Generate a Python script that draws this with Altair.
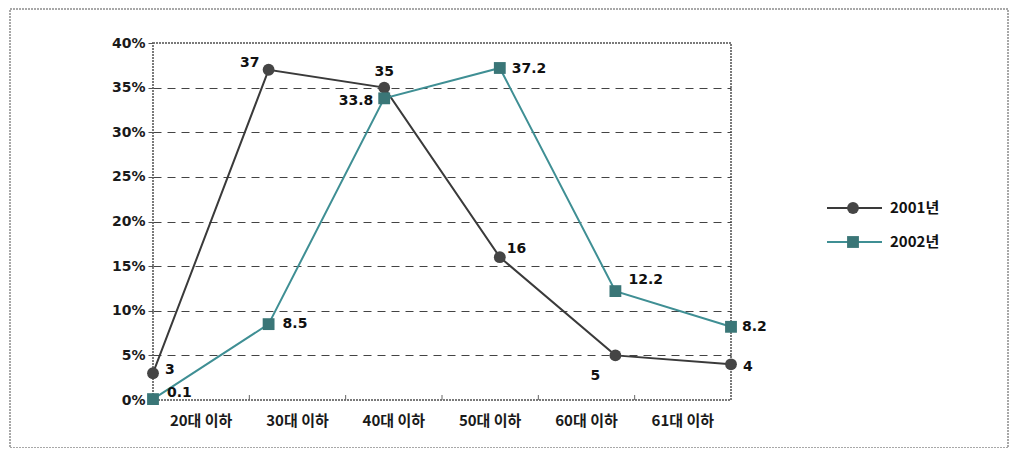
import altair as alt
import pandas as pd

# ---------------- data ----------------
categories = ["20대 이하", "30대 이하", "40대 이하", "50대 이하", "60대 이하", "61대 이하"]
series_names = ["2001년", "2002년"]
values_2001 = [3, 37, 35, 16, 5, 4]
values_2002 = [0.1, 8.5, 33.8, 37.2, 12.2, 8.2]
labels_2001 = ["3", "37", "35", "16", "5", "4"]
labels_2002 = ["0.1", "8.5", "33.8", "37.2", "12.2", "8.2"]
y_ticks = [0, 5, 10, 15, 20, 25, 30, 35, 40]

rows = []
for s, vals, labs in [(series_names[0], values_2001, labels_2001),
                      (series_names[1], values_2002, labels_2002)]:
    for i, (c, v, l) in enumerate(zip(categories, vals, labs)):
        rows.append({"series": s, "idx": i, "cat": c, "value": v, "label": l})
df = pd.DataFrame(rows)
cat_df = pd.DataFrame({"cat": categories})
legend_df = pd.DataFrame({"series": series_names})

# ---------------- style ----------------
line_colors = ["#3a3a3a", "#3f8f94"]
marker_colors = ["#454545", "#3a7677"]
marker_shapes = ["circle", "square"]
NUM_FONT = "DejaVu Sans"
KR_FONT = "Noto Sans CJK KR"
W, H = 578, 357

# label placement (dx, dy, align) per (series index, category index)
label_place = {
    (0, 0): (12, -3, "left"),
    (0, 1): (-9, -7, "right"),
    (0, 2): (0, -16, "center"),
    (0, 3): (7, -8, "left"),
    (0, 4): (-20, 21, "center"),
    (0, 5): (12, 3, "left"),
    (1, 0): (14, -6, "left"),
    (1, 1): (14, 0, "left"),
    (1, 2): (-11, 3, "right"),
    (1, 3): (12, 1, "left"),
    (1, 4): (13, -11, "left"),
    (1, 5): (11, 0, "left"),
}

color_scale = alt.Scale(domain=series_names, range=line_colors)
fill_scale = alt.Scale(domain=series_names, range=marker_colors)
shape_scale = alt.Scale(domain=series_names, range=marker_shapes)

x_pt = alt.X("idx:Q", scale=alt.Scale(domain=[0, 5], nice=False, zero=False), axis=None)
y_val = alt.Y(
    "value:Q",
    scale=alt.Scale(domain=[0, 40], nice=False, zero=True),
    axis=alt.Axis(
        values=y_ticks,
        labelExpr="datum.value + '%'",
        title=None,
        grid=True,
        gridDash=[8, 6],
        gridColor="#444444",
        gridWidth=1,
        gridOpacity={"condition": {"test": "datum.value == 0 || datum.value == 40", "value": 0}, "value": 1},
        domain=False,
        ticks=True,
        tickSize=5,
        tickColor="#555555",
        labelFont=NUM_FONT,
        labelFontWeight="bold",
        labelFontSize=14,
        labelColor="#1a1a1a",
        labelPadding=3,
    ),
)

base = alt.Chart(df)

lines = base.mark_line(strokeWidth=2).encode(
    x=x_pt,
    y=y_val,
    color=alt.Color("series:N", scale=color_scale, legend=None),
)

points = base.mark_point(filled=True, opacity=1, size=140).encode(
    x=x_pt,
    y="value:Q",
    fill=alt.Fill("series:N", scale=fill_scale, legend=None),
    shape=alt.Shape("series:N", scale=shape_scale, legend=None),
)

text_layers = []
for (si, ci), (dx, dy, al) in label_place.items():
    t = base.transform_filter(
        (alt.datum.series == series_names[si]) & (alt.datum.idx == ci)
    ).mark_text(
        dx=dx, dy=dy, align=al, baseline="middle",
        font=NUM_FONT, fontWeight="bold", fontSize=14, color="#111111",
    ).encode(x=x_pt, y="value:Q", text="label:N")
    text_layers.append(t)

axis_layer = alt.Chart(cat_df).mark_rule(color="#666666", strokeWidth=1).encode(
    x=alt.X(
        "cat:N", sort=categories, bandPosition=0,
        scale=alt.Scale(type="band", paddingInner=0, paddingOuter=0),
        axis=alt.Axis(
            title=None, labelAngle=0, domain=False, ticks=False,
            labelFont=KR_FONT, labelFontWeight="bold", labelFontSize=15, labelColor="#1a1a1a",
            labelPadding=13,
        ),
    ),
    y=alt.value(H - 5),
    y2=alt.value(H),
)

main = alt.layer(axis_layer, lines, points, *text_layers).resolve_scale(x="independent")

# ---------------- legend (line + marker + label per series) ----------------
leg_y = alt.Y("series:N", scale=alt.Scale(type="point", domain=series_names, range=[165, 199], padding=0), axis=None)
leg_base = alt.Chart(legend_df)
leg_line = leg_base.mark_rule(strokeWidth=2).encode(
    x=alt.value(674), x2=alt.value(729), y=leg_y,
    color=alt.Color("series:N", scale=color_scale, legend=None),
)
leg_mark = leg_base.mark_point(filled=True, opacity=1, size=140).encode(
    x=alt.value(700), y=leg_y,
    fill=alt.Fill("series:N", scale=fill_scale, legend=None),
    shape=alt.Shape("series:N", scale=shape_scale, legend=None),
)
leg_text = leg_base.mark_text(
    align="left", baseline="middle", font=KR_FONT, fontWeight="bold", fontSize=15, color="#111111"
).encode(x=alt.value(737), y=leg_y, text="series:N")
legend = alt.layer(leg_line, leg_mark, leg_text)

frame = alt.Chart(pd.DataFrame({"a": [0]})).mark_rect(
    filled=False, stroke="#a8a8a8", strokeWidth=2, strokeDash=[2, 1]
).encode(
    x=alt.value(-143), x2=alt.value(855), y=alt.value(-34), y2=alt.value(405)
)

chart = alt.layer(frame, main, legend).resolve_scale(
    y="independent"
).properties(
    width=W, height=H,
    autosize=alt.AutoSizeParams(type="none"),
    padding={"left": 145, "top": 35, "right": 278, "bottom": 48},
    background="white",
).configure_view(
    stroke="#7a7a7a", strokeWidth=2, strokeDash=[2, 1]
)

chart.save("out.html", embed_options={"renderer": "svg", "actions": False})
